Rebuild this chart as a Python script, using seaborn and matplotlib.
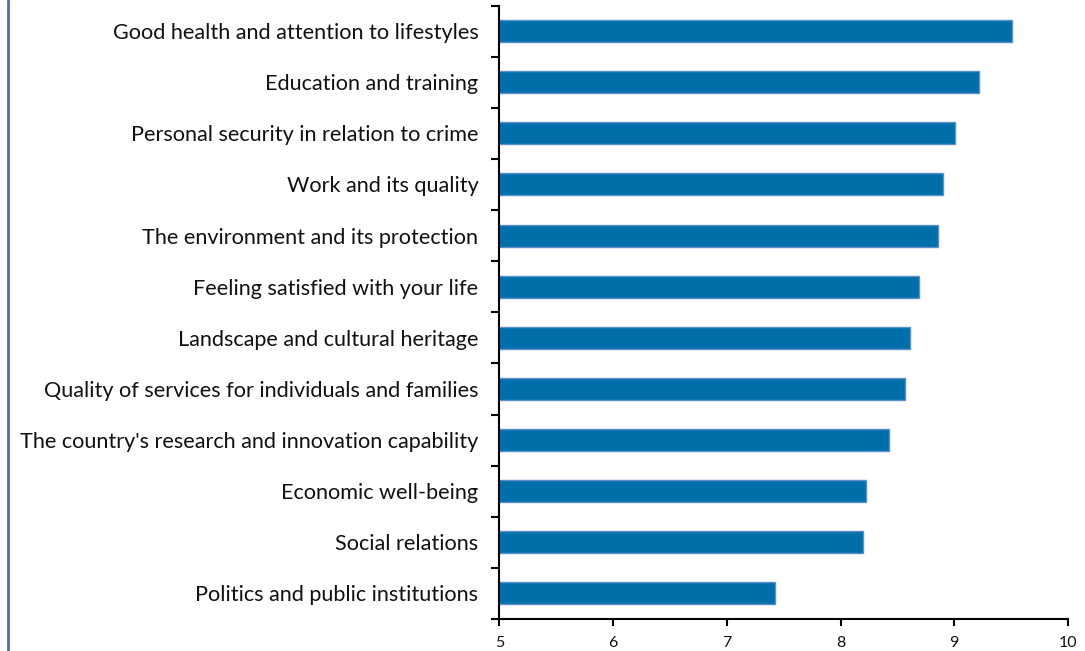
import matplotlib
matplotlib.use("Agg")
import matplotlib.pyplot as plt
import seaborn as sns
import pandas as pd
import numpy as np
from matplotlib.lines import Line2D

categories = [
    "Good health and attention to lifestyles",
    "Education and training",
    "Personal security in relation to crime",
    "Work and its quality",
    "The environment and its protection",
    "Feeling satisfied with your life",
    "Landscape and cultural heritage",
    "Quality of services for individuals and families",
    "The country's research and innovation capability",
    "Economic well-being",
    "Social relations",
    "Politics and public institutions",
]
values = [9.51, 9.22, 9.01, 8.90, 8.86, 8.69, 8.61, 8.57, 8.43, 8.22, 8.20, 7.42]
x_ticks = [5, 6, 7, 8, 9, 10]

sns.set_theme(style="white")
plt.rcParams['font.family'] = ['Lato', 'DejaVu Sans']

df = pd.DataFrame({"category": categories, "value": values})

fig = plt.figure(figsize=(10.85, 6.51), dpi=100)
ax = fig.add_axes([499.3 / 1085, 1 - 619 / 651, (1068 - 499.3) / 1085, (619 - 5.5) / 651])

sns.barplot(data=df, x="value", y="category", orient="h", color="#006FA9",
            saturation=1, width=0.43, edgecolor="#5D8FC8", linewidth=1.0, ax=ax)

ax.set_xlim(5, 10)
ax.set_ylim(len(categories) - 0.5, -0.5)
ax.set_xticks(x_ticks)
ax.set_xticklabels([str(t) for t in x_ticks], fontsize=11.5)
ax.set_xlabel("")
ax.set_ylabel("")
ax.set_yticks(np.arange(-0.5, len(categories), 1), minor=True)
ax.tick_params(axis="y", which="major", left=True, length=0, pad=15, labelsize=15.6, labelcolor="#111111")
ax.tick_params(axis="y", which="minor", left=True, length=6, width=1.5, color="black", direction="out")
ax.tick_params(axis="x", which="major", bottom=True, length=5, width=1.5, color="black",
               direction="out", pad=7, labelcolor="#111111")

for s in ["top", "right"]:
    ax.spines[s].set_visible(False)
for s in ["left", "bottom"]:
    ax.spines[s].set_color("black")
    ax.spines[s].set_linewidth(1.5)

fig.add_artist(Line2D([8 / 1085, 8 / 1085], [0, 1], transform=fig.transFigure,
                      color="#4A6FA5", linewidth=2))

fig.savefig("out.png", dpi=100, facecolor="white")
